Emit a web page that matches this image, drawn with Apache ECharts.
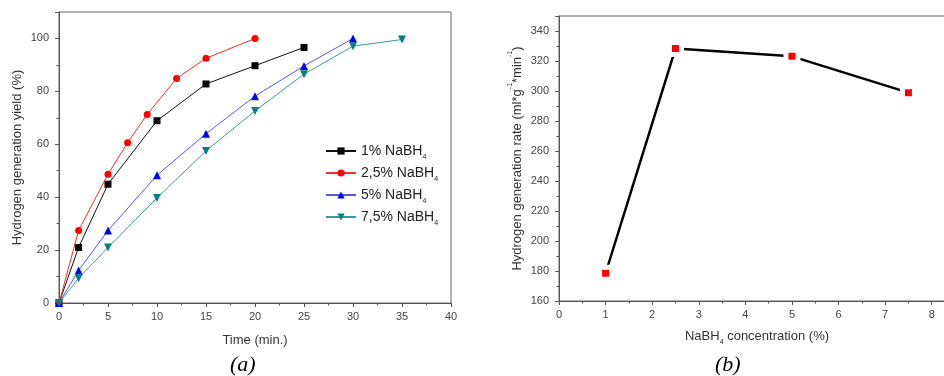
<!DOCTYPE html>
<html>
<head>
<meta charset="utf-8">
<script src="https://cdn.jsdelivr.net/npm/echarts@6/dist/echarts.min.js"></script>
<style>
  html, body { margin: 0; padding: 0; background: #fff; }
  #chart { width: 944px; height: 376px; }
</style>
</head>
<body>
<div id="chart"></div>
<script>
// Panel (a): hydrogen generation yield (%) vs time (min.)
const seriesNames = ['1% NaBH4', '2,5% NaBH4', '5% NaBH4', '7,5% NaBH4'];
const time1 = [0, 2, 5, 10, 15, 20, 25];
const yield1 = [0, 21.0, 44.9, 68.9, 82.8, 89.7, 96.6];
const time25 = [0, 2, 5, 7, 9, 12, 15, 20];
const yield25 = [0, 27.4, 48.7, 60.6, 71.3, 84.9, 92.5, 100];
const time5 = [0, 2, 5, 10, 15, 20, 25, 30];
const yield5 = [0, 12.3, 27.4, 48.3, 64.0, 78.2, 89.6, 100];
const time75 = [0, 2, 5, 10, 15, 20, 25, 30, 35];
const yield75 = [0, 9.4, 21.0, 39.7, 57.5, 72.6, 86.5, 97.1, 99.6];

// Panel (b): hydrogen generation rate vs NaBH4 concentration
const concentration = [1, 2.5, 5, 7.5];
const rate = [178.5, 328.3, 323.1, 298.9];

const pairs = (xs, ys) => xs.map((x, i) => [x, ys[i]]);

const font = 'Liberation Sans, Arial, sans-serif';
const axisColor = '#555';
const labelColor = '#444';

function axisBase(extra) {
  return Object.assign({
    type: 'value',
    axisLine: { show: true, lineStyle: { color: axisColor, width: 1 } },
    axisTick: { show: true, inside: false, length: 4, lineStyle: { color: axisColor } },
    minorTick: { show: true, splitNumber: 2, length: 2.5, lineStyle: { color: axisColor } },
    splitLine: { show: false },
    minorSplitLine: { show: false },
    axisLabel: { color: labelColor, fontFamily: font, fontSize: 11 },
    nameTextStyle: { color: '#333', fontFamily: font, fontSize: 13 }
  }, extra);
}

const subRich = {
  s: { fontSize: 7, verticalAlign: 'bottom', padding: [0, 0, -3, 0], fontFamily: font, color: '#222' },
  p: { fontSize: 7, verticalAlign: 'top', padding: [-4, 0, 0, 0], fontFamily: font, color: '#333' }
};

const option = {
  animation: false,
  backgroundColor: '#fff',
  grid: [
    { left: 59, top: 12, right: 493, bottom: 73, show: true, borderColor: '#666', borderWidth: 1,
      containLabel: false, outerBoundsMode: 'none' },
    { left: 559, top: 16, width: 396, bottom: 75, show: true, borderColor: '#666', borderWidth: 1,
      containLabel: false, outerBoundsMode: 'none' }
  ],
  xAxis: [
    axisBase({
      gridIndex: 0, min: 0, max: 40, interval: 5,
      axisLabel: { color: labelColor, fontFamily: font, fontSize: 11, margin: 8 },
      name: 'Time (min.)', nameLocation: 'middle', nameGap: 31
    }),
    axisBase({
      gridIndex: 1, min: 0, max: 8.5, interval: 1,
      axisLabel: { color: labelColor, fontFamily: font, fontSize: 11, margin: 8, showMaxLabel: false },
      name: 'NaBH{s|4} concentration (%)', nameLocation: 'middle', nameGap: 29,
      nameTextStyle: { color: '#333', fontFamily: font, fontSize: 13, rich: subRich }
    })
  ],
  yAxis: [
    axisBase({
      gridIndex: 0, min: 0, max: 110, interval: 20,
      axisLabel: { color: labelColor, fontFamily: font, fontSize: 11, margin: 10, showMaxLabel: false },
      name: 'Hydrogen generation yield (%)', nameLocation: 'middle', nameGap: 35
    }),
    axisBase({
      gridIndex: 1, min: 160, max: 350, interval: 20,
      axisLabel: { color: labelColor, fontFamily: font, fontSize: 11, margin: 10, showMaxLabel: false },
      name: 'Hydrogen generation rate (ml*g{p|-1}*min{p|-1})', nameLocation: 'middle', nameGap: 35,
      nameTextStyle: { color: '#333', fontFamily: font, fontSize: 13, rich: subRich }
    })
  ],
  legend: {
    orient: 'vertical',
    left: 325, top: 144, padding: 0,
    itemWidth: 30, itemHeight: 9, itemGap: 5,
    data: seriesNames,
    formatter: name => name.replace(/4$/, '{s|4}'),
    textStyle: { fontFamily: font, fontSize: 14, color: '#222', rich: subRich }
  },
  series: [
    {
      name: seriesNames[0], type: 'line', xAxisIndex: 0, yAxisIndex: 0,
      data: pairs(time1, yield1), symbol: 'rect', symbolSize: 7,
      lineStyle: { color: '#111', width: 1 }, itemStyle: { color: '#000' }
    },
    {
      name: seriesNames[1], type: 'line', xAxisIndex: 0, yAxisIndex: 0,
      data: pairs(time25, yield25), symbol: 'circle', symbolSize: 7,
      lineStyle: { color: '#f03030', width: 1 }, itemStyle: { color: '#ff0000' }
    },
    {
      name: seriesNames[2], type: 'line', xAxisIndex: 0, yAxisIndex: 0,
      data: pairs(time5, yield5), symbol: 'triangle', symbolSize: 8,
      lineStyle: { color: '#5a5ad0', width: 1 }, itemStyle: { color: '#0000ff' }
    },
    {
      name: seriesNames[3], type: 'line', xAxisIndex: 0, yAxisIndex: 0,
      data: pairs(time75, yield75), symbol: 'path://M0,0 L10,0 L5,9 Z', symbolSize: 8,
      lineStyle: { color: '#3a9a9a', width: 1 }, itemStyle: { color: '#008080' }
    },
    {
      name: 'rate', type: 'line', xAxisIndex: 1, yAxisIndex: 1,
      data: pairs(concentration, rate), symbol: 'rect', symbolSize: 12,
      lineStyle: { color: '#000', width: 2.5 },
      itemStyle: { color: '#ff0000', borderColor: '#fff', borderWidth: 5 }
    }
  ],
  graphic: [
    { type: 'text', left: 230, top: 354,
      style: { text: '(a)', font: 'italic 22px "Liberation Serif", "Times New Roman", serif', fill: '#000' } },
    { type: 'text', left: 715, top: 354,
      style: { text: '(b)', font: 'italic 22px "Liberation Serif", "Times New Roman", serif', fill: '#000' } }
  ]
};

const chart = echarts.init(document.getElementById('chart'), null, { renderer: 'canvas' });
chart.setOption(option);
</script>
</body>
</html>
